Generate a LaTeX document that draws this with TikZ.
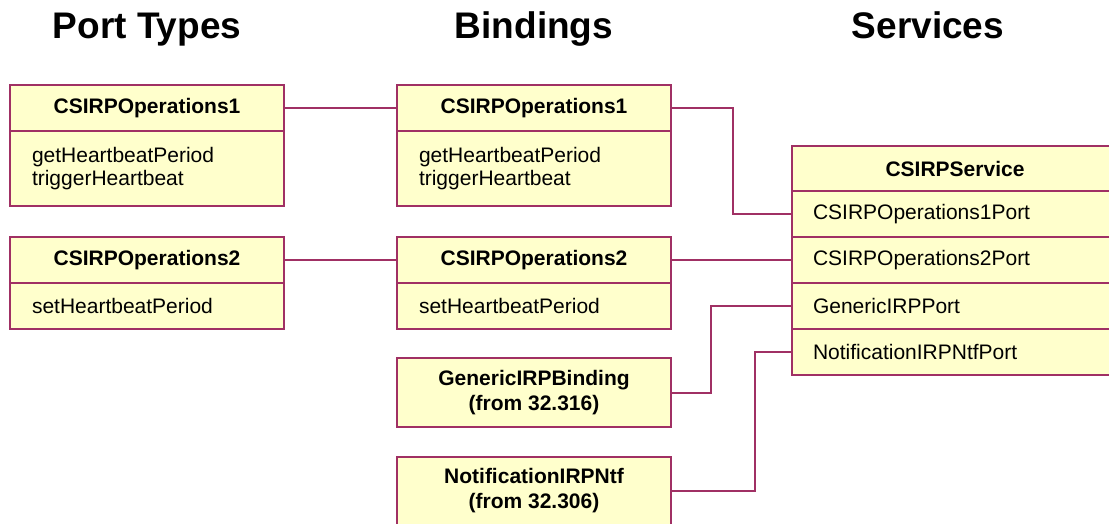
\documentclass[tikz,border=0pt]{standalone}
\usepackage{fontspec}
\setmainfont{Liberation Sans}
\usetikzlibrary{positioning}
\definecolor{umlline}{RGB}{160,48,100}
\definecolor{umlfill}{RGB}{255,255,204}

\begin{document}
\begin{tikzpicture}[x=1pt,y=-1pt,
	box/.style = {draw=umlline, fill=umlfill, line width=2pt, outer sep=0pt, inner sep=0pt},
	hdr/.style = {box, minimum width=274pt, minimum height=46pt, align=center,
		font=\fontsize{21}{25}\selectfont\bfseries},
	body/.style = {box, inner xsep=22pt, text width=230pt, align=left,
		font=\fontsize{21}{23}\selectfont},
	port/.style = {box, inner xsep=21pt, text width=284pt, minimum height=46pt, align=left,
		font=\fontsize{21}{23}\selectfont},
	title/.style = {anchor=base, font=\fontsize{37}{44}\selectfont\bfseries},
	link/.style = {draw=umlline, line width=2pt}]
	\useasboundingbox (0,0) rectangle (1109,524);
	\clip (0,0) rectangle (1109,524);

	% column titles
	\node[title] (tport) at (147,39) {Port Types};
	\node[title] (tbind) at (534,39) {Bindings};
	\node[title] (tserv) at (928,39) {Services};

	% port types
	\node[hdr, anchor=north west] (pt1) at (10,85) {CSIRPOperations1};
	\node[body, minimum height=75pt, below=0pt of pt1] (pt1ops) {getHeartbeatPeriod\\triggerHeartbeat};
	\node[hdr, anchor=north west] (pt2) at (10,237) {CSIRPOperations2};
	\node[body, minimum height=46pt, below=0pt of pt2] (pt2ops) {setHeartbeatPeriod};

	% bindings
	\node[hdr, anchor=north west] (bd1) at (397,85) {CSIRPOperations1};
	\node[body, minimum height=75pt, below=0pt of bd1] (bd1ops) {getHeartbeatPeriod\\triggerHeartbeat};
	\node[hdr, anchor=north west] (bd2) at (397,237) {CSIRPOperations2};
	\node[body, minimum height=46pt, below=0pt of bd2] (bd2ops) {setHeartbeatPeriod};
	\node[hdr, minimum height=69pt, anchor=north west] (generic) at (397,358) {GenericIRPBinding\\(from 32.316)};
	\node[hdr, minimum height=68pt, anchor=north west] (notif) at (397,457) {NotificationIRPNtf\\(from 32.306)};

	% service
	\node[hdr, minimum width=326pt, minimum height=45pt, anchor=north west] (serv) at (792,146) {CSIRPService};
	\node[port, below=0pt of serv] (p1) {CSIRPOperations1Port};
	\node[port, below=0pt of p1] (p2) {CSIRPOperations2Port};
	\node[port, below=0pt of p2] (p3) {GenericIRPPort};
	\node[port, below=0pt of p3] (p4) {NotificationIRPNtfPort};

	% connectors
	\draw[link] (pt1.east) -- (bd1.west);
	\draw[link] (pt2.east) -- (bd2.west);
	\draw[link] (bd1.east) -- ++(62,0) |- (p1.west);
	\draw[link] (bd2.east) -- (p2.west);
	\draw[link] (generic.east) -- ++(40,0) |- (p3.west);
	\draw[link] (notif.east) -- ++(84,0) |- (p4.west);
\end{tikzpicture}
\end{document}
